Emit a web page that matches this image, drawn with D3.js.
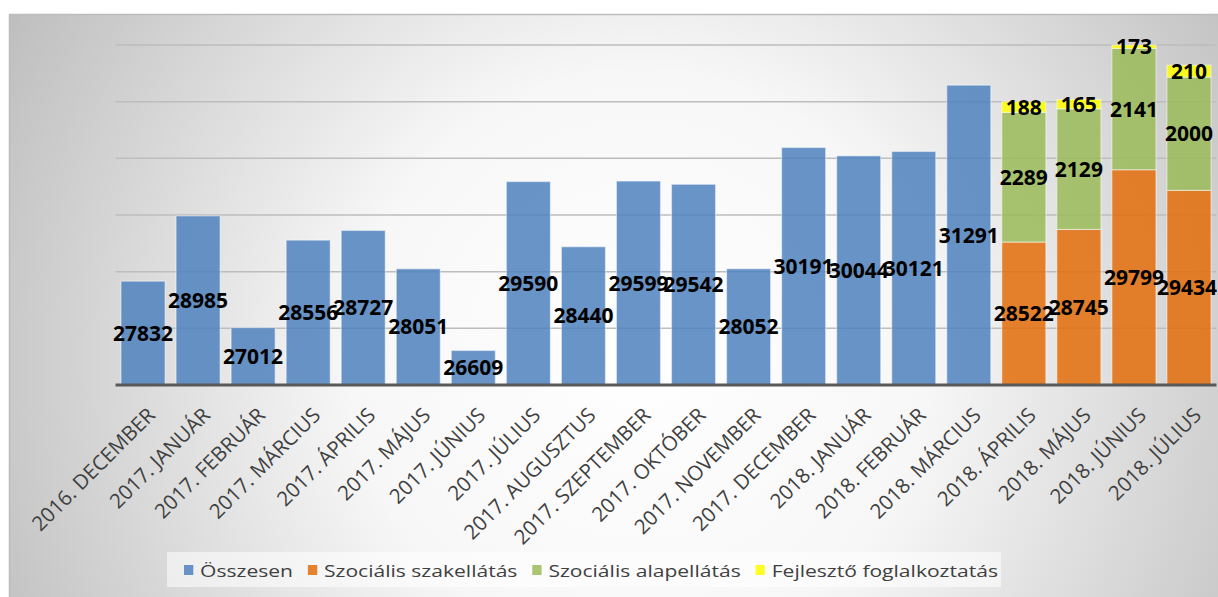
<!DOCTYPE html>
<html>
<head>
<meta charset="utf-8">
<script src="https://cdn.jsdelivr.net/npm/d3@7"></script>
<style>
  html, body { margin: 0; padding: 0; background: #fff; }
  svg { display: block; }
</style>
</head>
<body>
<div id="chart"></div>
<script>
var months = ['2016. DECEMBER', '2017. JANUÁR', '2017. FEBRUÁR', '2017. MÁRCIUS', '2017. ÁPRILIS',
  '2017. MÁJUS', '2017. JÚNIUS', '2017. JÚLIUS', '2017. AUGUSZTUS', '2017. SZEPTEMBER',
  '2017. OKTÓBER', '2017. NOVEMBER', '2017. DECEMBER', '2018. JANUÁR', '2018. FEBRUÁR',
  '2018. MÁRCIUS', '2018. ÁPRILIS', '2018. MÁJUS', '2018. JÚNIUS', '2018. JÚLIUS']

var osszesen = [27832, 28985, 27012, 28556, 28727, 28051, 26609, 29590, 28440, 29599,
  29542, 28052, 30191, 30044, 30121, 31291, null, null, null, null]
var szakellatas = [null, null, null, null, null, null, null, null, null, null,
  null, null, null, null, null, null, 28522, 28745, 29799, 29434]
var alapellatas = [null, null, null, null, null, null, null, null, null, null,
  null, null, null, null, null, null, 2289, 2129, 2141, 2000]
var fejleszto = [null, null, null, null, null, null, null, null, null, null,
  null, null, null, null, null, null, 188, 165, 173, 210]

var seriesNames = ['Összesen', 'Szociális szakellátás', 'Szociális alapellátás', 'Fejlesztő foglalkoztatás']
var seriesColors = ['#4f81bd', '#e36c09', '#9bbb59', '#ffff00']
var yTicks = [27000, 28000, 29000, 30000, 31000, 32000]

var width = 1218
var height = 597

var svg = d3.select('#chart').append('svg').attr('width', width).attr('height', height)

// background gradient of the chart area
var defs = svg.append('defs')
var grad = defs.append('radialGradient').attr('id', 'bg')
  .attr('gradientUnits', 'userSpaceOnUse')
  .attr('cx', 640).attr('cy', 360).attr('r', 720)
grad.append('stop').attr('offset', 0).attr('stop-color', '#ffffff')
grad.append('stop').attr('offset', 0.4).attr('stop-color', '#f7f7f7')
grad.append('stop').attr('offset', 1).attr('stop-color', '#bebebe')

svg.append('rect')
  .attr('x', 9.5).attr('y', 14.5).attr('width', 1230).attr('height', 600)
  .style('fill', 'url(#bg)').style('stroke', '#bcbcbc').style('stroke-width', 1.5)

var x = d3.scaleBand().domain(months).range([115.5, 1216.5]).paddingInner(0.2).paddingOuter(0.1)
var y = d3.scaleLinear().domain([26000, 32000]).range([385, 45]).clamp(true)

// gridlines
svg.append('g').selectAll('line')
  .data(yTicks)
  .enter()
  .append('line')
  .attr('x1', 115.5).attr('x2', 1216.5)
  .attr('y1', d => y(d)).attr('y2', d => y(d))
  .style('stroke', '#bdbdbd').style('stroke-width', 1.5)

// stacked data
var rows = months.map(function(m, i) {
  return { month: m, s0: osszesen[i] || 0, s1: szakellatas[i] || 0, s2: alapellatas[i] || 0, s3: fejleszto[i] || 0 }
})
var raw = [osszesen, szakellatas, alapellatas, fejleszto]
var stack = d3.stack().keys(['s0', 's1', 's2', 's3'])
var stacked = stack(rows)

var layers = svg.append('g').selectAll('g')
  .data(stacked)
  .enter()
  .append('g')
  .style('fill', (d, i) => seriesColors[i])

layers.selectAll('rect')
  .data((d, i) => d.map(function(p, j) { return { p: p, v: raw[i][j], month: months[j] } }).filter(e => e.v != null))
  .enter()
  .append('rect')
  .attr('x', d => x(d.month))
  .attr('width', x.bandwidth())
  .attr('y', d => y(d.p[1]))
  .attr('height', d => y(d.p[0]) - y(d.p[1]))
  .style('fill-opacity', 0.85)
  .style('stroke', '#ffffff').style('stroke-opacity', 0.45).style('stroke-width', 1.2)

// axis baseline
svg.append('line')
  .attr('x1', 115.5).attr('x2', 1216.5).attr('y1', 385).attr('y2', 385)
  .style('stroke', '#595959').style('stroke-width', 3)

// x labels
svg.append('g').selectAll('text')
  .data(months)
  .enter()
  .append('text')
  .attr('transform', d => 'translate(' + (x(d) + x.bandwidth() / 2 + 3) + ',406) rotate(-45)')
  .attr('text-anchor', 'end')
  .attr('dy', '0.72em')
  .style('font-family', '"Open Sans", sans-serif')
  .style('font-size', '20.5px')
  .style('fill', '#404040')
  .text(d => d)

// data labels
var labels = []
stacked.forEach(function(layer, i) {
  layer.forEach(function(p, j) {
    if (raw[i][j] != null) labels.push({ month: months[j], v: raw[i][j], cy: (y(p[0]) + y(p[1])) / 2 })
  })
})
svg.append('g').selectAll('text')
  .data(labels)
  .enter()
  .append('text')
  .attr('x', d => x(d.month) + x.bandwidth() / 2)
  .attr('y', d => d.cy)
  .attr('dy', '0.36em')
  .attr('text-anchor', 'middle')
  .style('font-family', '"Open Sans", sans-serif')
  .style('font-weight', 700)
  .style('font-size', '21px')
  .style('fill', '#000')
  .text(d => d.v)
  .each(function() {
    // keep labels inside the picture at the right edge
    var w = this.getComputedTextLength()
    var cx = +this.getAttribute('x')
    if (cx + w / 2 > width - 1) this.setAttribute('x', width - 1 - w / 2)
  })

// legend
svg.append('rect')
  .attr('x', 167).attr('y', 552).attr('width', 834).attr('height', 35)
  .style('fill', '#ffffff').style('fill-opacity', 0.55)

var legend = svg.append('g').attr('transform', 'translate(184,0) scale(1.24,1)')
var lx = 0
seriesNames.forEach(function(name, i) {
  legend.append('rect')
    .attr('x', lx).attr('y', 565).attr('width', 7.5).attr('height', 10)
    .style('fill', seriesColors[i]).style('fill-opacity', 0.85)
  var t = legend.append('text')
    .attr('x', lx + 13).attr('y', 577)
    .style('font-family', '"Open Sans", sans-serif')
    .style('font-size', '17px')
    .style('fill', '#404040')
    .text(name)
  lx += 13 + t.node().getComputedTextLength() + 12
})
</script>
</body>
</html>
